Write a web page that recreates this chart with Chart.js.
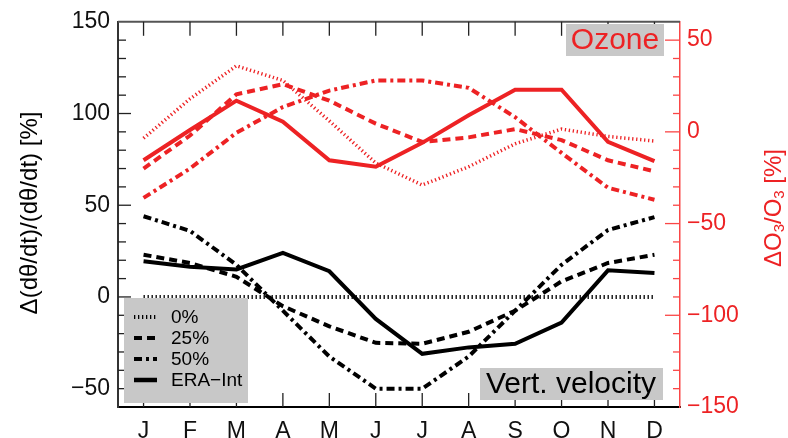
<!DOCTYPE html>
<html lang="en">
<head>
<meta charset="UTF-8">
<title>Vertical velocity and ozone</title>
<style>
  body { margin: 0; background: #fff; }
  #wrap { width: 788px; height: 438px; }
</style>
</head>
<body>
<div id="wrap"><canvas id="chart"></canvas></div>

<script src="https://cdn.jsdelivr.net/npm/chart.js"></script>
<script>
const months = ['J', 'F', 'M', 'A', 'M', 'J', 'J', 'A', 'S', 'O', 'N', 'D'];

// vertical velocity change, left axis [%]
const vel0   = [0, 0, 0, 0, 0, 0, 0, 0, 0, 0, 0, 0];
const vel25  = [23, 18.5, 11, -5, -16, -25, -25.5, -19, -7.5, 8.5, 18.5, 23];
const vel50  = [44, 36, 17.5, -7.5, -32.5, -50, -50, -32.5, -7.5, 17.5, 36.5, 43.5];
const velEra = [19.5, 16.5, 15, 24, 14, -12, -31, -27.5, -25.5, -14, 14.5, 13];

// ozone change, right axis [%]
const oz0   = [-3.5, 18, 36, 28, 6, -17, -29, -19, -6.5, 1.5, -2.5, -5];
const oz25  = [-20, -2, 20.5, 26, 17, 4.5, -5.5, -3, 1.5, -4.5, -15.5, -21.5];
const oz50  = [-36, -20, -0.5, 13.5, 22.5, 28, 28, 24, 8, -11.5, -30.5, -37];
const ozEra = [-15.5, 1, 17, 5.5, -15.5, -19, -6, 9, 23, 23, -5.5, -16];

const leftTicks  = [-50, 0, 50, 100, 150];
const rightTicks = [-150, -100, -50, 0, 50];

const FONT = '"Liberation Sans", Arial, sans-serif';
const RED = 'rgb(237,34,36)';
const AXRED = 'rgb(250,70,70)';

const DOT = [1.3, 2.7];
const DASH = [8, 5];
const DASHDOT = [8, 4, 3, 4];

function pts(arr) {
  return arr.map((v, i) => ({ x: i, y: v }));
}

function series(label, arr, color, dash, width, axis) {
  return {
    label: label,
    data: pts(arr),
    yAxisID: axis,
    borderColor: color,
    borderDash: dash,
    borderWidth: width,
    pointRadius: 0,
    tension: 0,
    fill: false
  };
}

const fmt = v => String(v).replace('-', '\u2212');

// inside ticks, top frame, boxes and axis titles
const decor = {
  id: 'decor',
  afterDraw(chart) {
    const { ctx, chartArea: a, scales } = chart;
    const line = (x1, y1, x2, y2) => {
      ctx.beginPath(); ctx.moveTo(x1, y1); ctx.lineTo(x2, y2); ctx.stroke();
    };
    ctx.save();

    ctx.strokeStyle = '#555';
    ctx.lineWidth = 2;
    line(a.left, a.top, a.right, a.top);

    ctx.strokeStyle = '#222';
    ctx.lineWidth = 1.3;
    months.forEach((m, i) => {
      const px = scales.x.getPixelForValue(i);
      line(px, a.top, px, a.top + 14);
      line(px, a.bottom, px, a.bottom - 14);
    });

    for (let v = -50; v < 150; v += 10) {
      const py = scales.y.getPixelForValue(v);
      line(a.left, py, a.left + (v % 50 === 0 ? 13 : 8), py);
    }

    ctx.strokeStyle = AXRED;
    for (let v = -140; v < 60; v += 10) {
      const py = scales.y2.getPixelForValue(v);
      line(a.right, py, a.right - (v % 50 === 0 ? 15 : 7), py);
    }

    // label boxes
    ctx.fillStyle = '#c8c8c8';
    ctx.fillRect(566, 24, 98, 32);
    ctx.fillRect(480, 368, 183, 32);
    ctx.font = '30px ' + FONT;
    ctx.textAlign = 'center';
    ctx.textBaseline = 'middle';
    ctx.fillStyle = RED;
    ctx.fillText('Ozone', 615, 41);
    ctx.fillStyle = '#000';
    ctx.fillText('Vert. velocity', 571, 385);

    // legend
    ctx.fillStyle = '#c8c8c8';
    ctx.fillRect(124, 298, 124, 105);
    const rows = [['0%', DOT, 4], ['25%', DASH, 4], ['50%', DASHDOT, 4], ['ERA\u2212Int', [], 4.5]];
    ctx.font = '19px ' + FONT;
    ctx.textAlign = 'left';
    rows.forEach((r, i) => {
      const yy = 317 + i * 21;
      ctx.strokeStyle = '#000';
      ctx.lineWidth = r[2];
      ctx.setLineDash(r[1]);
      line(134, yy, 157, yy);
      ctx.setLineDash([]);
      ctx.fillStyle = '#000';
      ctx.fillText(r[0], 171, yy + 1);
    });

    // axis titles
    ctx.save();
    ctx.translate(30, 213);
    ctx.rotate(-Math.PI / 2);
    ctx.fillStyle = '#000';
    ctx.font = '24px ' + FONT;
    ctx.textAlign = 'center';
    ctx.fillText('\u0394(d\u03b8/dt)/(d\u03b8/dt) [%]', 0, 0);
    ctx.restore();

    ctx.save();
    ctx.translate(774, 208);
    ctx.rotate(-Math.PI / 2);
    ctx.fillStyle = RED;
    ctx.textAlign = 'left';
    const parts = [['\u0394O', 0], ['3', 1], ['/O', 0], ['3', 1], [' [%]', 0]];
    const big = '24px ' + FONT, small = '15px ' + FONT;
    let total = 0;
    parts.forEach(p => { ctx.font = p[1] ? small : big; total += ctx.measureText(p[0]).width; });
    let cx = -total / 2;
    parts.forEach(p => {
      ctx.font = p[1] ? small : big;
      ctx.fillText(p[0], cx, p[1] ? 6 : 0);
      cx += ctx.measureText(p[0]).width;
    });
    ctx.restore();

    ctx.restore();
  }
};

new Chart(document.getElementById('chart'), {
  type: 'line',
  data: {
    datasets: [
      series('ERA-Int', velEra, '#000', [], 4, 'y'),
      series('25%', vel25, '#000', DASH, 4, 'y'),
      series('50%', vel50, '#000', DASHDOT, 4, 'y'),
      series('0%', vel0, '#000', DOT, 4, 'y'),
      series('Ozone ERA-Int', ozEra, RED, [], 4, 'y2'),
      series('Ozone 25%', oz25, RED, DASH, 4, 'y2'),
      series('Ozone 50%', oz50, RED, DASHDOT, 4, 'y2'),
      series('Ozone 0%', oz0, RED, DOT, 3.5, 'y2')
    ]
  },
  options: {
    responsive: true,
    maintainAspectRatio: false,
    animation: false,
    layout: { padding: { top: 17, left: 0, right: 0, bottom: 0 } },
    plugins: { legend: { display: false }, tooltip: { enabled: false } },
    scales: {
      x: {
        type: 'linear',
        min: -0.55,
        max: 11.55,
        afterBuildTicks: s => { s.ticks = months.map((m, i) => ({ value: i })); },
        afterFit: s => { s.height = 31; },
        grid: { display: false, drawTicks: false },
        border: { display: true, color: '#000', width: 2 },
        ticks: {
          padding: 11,
          color: '#111',
          font: { family: FONT, size: 23 },
          autoSkip: false,
          maxRotation: 0,
          callback: v => months[v]
        }
      },
      y: {
        position: 'left',
        min: -60,
        max: 150,
        afterBuildTicks: s => { s.ticks = leftTicks.map(v => ({ value: v })); },
        afterFit: s => { s.width = 118; },
        grid: { display: false, drawTicks: false },
        border: { display: true, color: '#333', width: 2 },
        ticks: {
          padding: 8,
          color: '#111',
          font: { family: FONT, size: 23 },
          callback: v => fmt(v)
        }
      },
      y2: {
        position: 'right',
        min: -150,
        max: 60,
        afterBuildTicks: s => { s.ticks = rightTicks.map(v => ({ value: v })); },
        afterFit: s => { s.width = 108; },
        grid: { display: false, drawTicks: false },
        border: { display: true, color: AXRED, width: 1.5 },
        ticks: {
          padding: 7,
          color: RED,
          font: { family: FONT, size: 23 },
          callback: v => fmt(v)
        }
      }
    }
  },
  plugins: [decor]
});
</script>
</body>
</html>
